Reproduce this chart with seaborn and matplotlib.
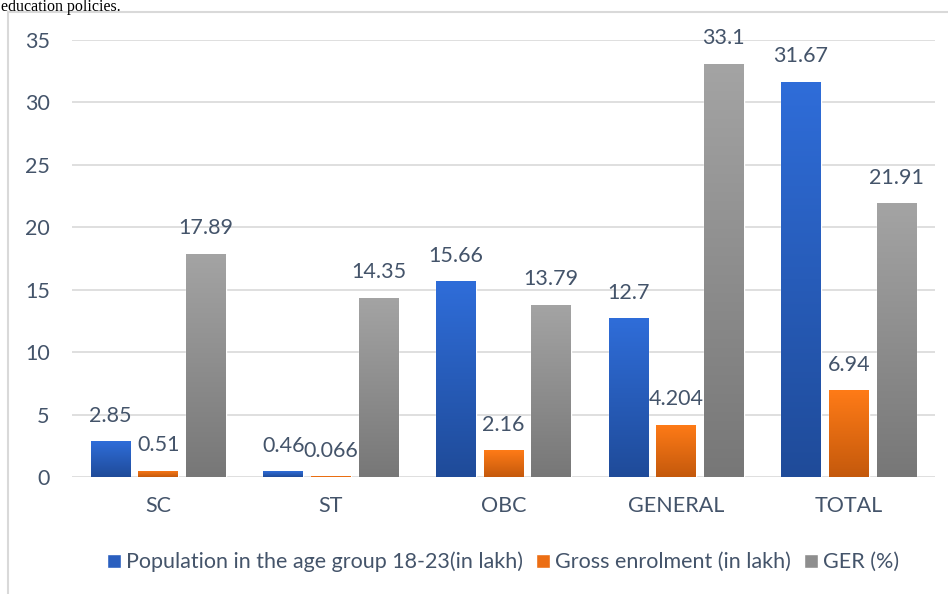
import numpy as np
import pandas as pd
import matplotlib
matplotlib.use("Agg")
import matplotlib.pyplot as plt
import seaborn as sns
from matplotlib.colors import LinearSegmentedColormap
from matplotlib.patches import Rectangle

categories = ["SC", "ST", "OBC", "GENERAL", "TOTAL"]
series_names = ["Population in the age group 18-23(in lakh)",
                "Gross enrolment (in lakh)", "GER (%)"]
population = [2.85, 0.46, 15.66, 12.7, 31.67]
enrolment = [0.51, 0.066, 2.16, 4.204, 6.94]
ger = [17.89, 14.35, 13.79, 33.1, 21.91]
y_ticks = [0, 5, 10, 15, 20, 25, 30, 35]

rows = []
for name, vals in zip(series_names, [population, enrolment, ger]):
    for c, v in zip(categories, vals):
        rows.append({"category": c, "series": name, "value": v})
df = pd.DataFrame(rows)

sns.set_theme(style="white")
plt.rcParams['font.family'] = ['Lato', 'DejaVu Sans']

top_colors = ["#2F6DD9", "#FF7B17", "#A4A4A4"]
bottom_colors = ["#1F4B99", "#C4590C", "#777777"]
mid_colors = ["#2A5FBF", "#EC6E14", "#8E8E8E"]
text_color = "#44546A"
grid_color = "#D9D9D9"
fs = 15.5

fig = plt.figure(figsize=(9.48, 5.94), dpi=100)
ax = fig.add_axes([72 / 948, 1 - 477 / 594, (935 - 72) / 948, (477 - 40) / 594])

sns.barplot(data=df, x="category", y="value", hue="series", order=categories,
            hue_order=series_names, palette=mid_colors, width=0.83, gap=0.17,
            errorbar=None, saturation=1, legend=False, ax=ax, zorder=2)

grad = np.linspace(0, 1, 256).reshape(-1, 1)
for container, vals, top, bot in zip(ax.containers, [population, enrolment, ger],
                                     top_colors, bottom_colors):
    cmap = LinearSegmentedColormap.from_list("g", [bot, top])
    for bar, v in zip(container, vals):
        x0, y0 = bar.get_x(), bar.get_y()
        w, h = bar.get_width(), bar.get_height()
        im = ax.imshow(grad, extent=[x0, x0 + w, y0, y0 + h], origin="lower",
                       aspect="auto", cmap=cmap, zorder=2.5)
        im.set_clip_path(bar)
        ax.annotate(str(v), (x0 + w / 2, y0 + h), xytext=(0, 25.5),
                    textcoords="offset pixels", ha="center", va="center",
                    fontsize=fs, color=text_color, annotation_clip=False,
                    zorder=5)

ax.set_xlim(-0.5, 4.5)
ax.set_ylim(0, 35)
ax.set_yticks(y_ticks)
ax.set_yticklabels([str(t) for t in y_ticks])
ax.yaxis.grid(True, color=grid_color, lw=1.2)
ax.set_axisbelow(True)
for s in ax.spines.values():
    s.set_visible(False)
ax.tick_params(axis="y", length=0, pad=16, labelsize=fs, labelcolor=text_color)
ax.tick_params(axis="x", length=0, pad=14, labelsize=fs, labelcolor=text_color)
ax.set_xlabel("")
ax.set_ylabel("")

handles = [Rectangle((0, 0), 1, 1, facecolor=c) for c in mid_colors]
fig.legend(handles, series_names, loc="center",
           bbox_to_anchor=(503 / 948, 1 - 562 / 594), ncol=3, frameon=False,
           fontsize=fs, handlelength=0.65, handleheight=0.65,
           handletextpad=0.25, columnspacing=0.6, labelcolor=text_color)

fig.patches.append(Rectangle((8 / 948, -0.5), 2, (1 - 11.5 / 594) + 0.5,
                             transform=fig.transFigure, fill=False,
                             ec=grid_color, lw=1.5))
fig.text(1 / 948, 1 - 11 / 594, "education policies.", ha="left",
         va="baseline", fontsize=11.5, family=["Liberation Serif"], color="black")

fig.savefig("out.png", dpi=100)
